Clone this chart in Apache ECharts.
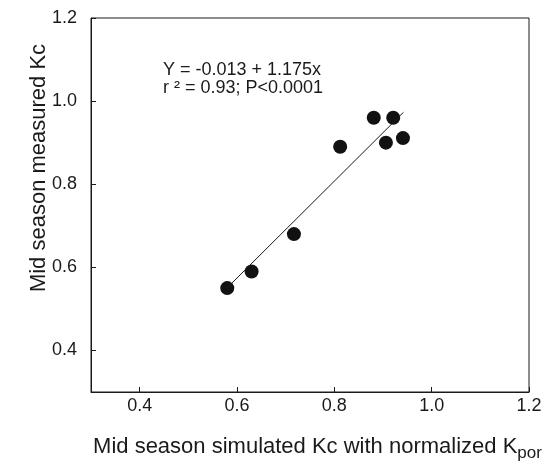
<!DOCTYPE html>
<html>
<head>
<meta charset="utf-8">
<script src="https://cdn.jsdelivr.net/npm/echarts@6/dist/echarts.min.js"></script>
<style>html,body{margin:0;padding:0;background:#fff}#c{width:552px;height:467px}</style>
</head>
<body>
<div id="c"></div>
<script>
// Data
const simulatedKc = [0.58, 0.63, 0.717, 0.812, 0.881, 0.906, 0.921, 0.941];
const measuredKc  = [0.55, 0.59, 0.68, 0.89, 0.96, 0.90, 0.96, 0.911];
const fitLineX = [0.58, 0.942];
const fitLineY = [0.551, 0.973];
const xTicks = [0.4, 0.6, 0.8, 1.0, 1.2];
const yTicks = [0.4, 0.6, 0.8, 1.0, 1.2];
const equationText = ['Y = -0.013 + 1.175x', 'r ² = 0.93; P<0.0001'];
const yTitle = 'Mid season measured Kc';
const xTitleMain = 'Mid season simulated Kc with normalized K';
const xTitleSub = 'por';

const FONT = '"Liberation Sans", Arial, sans-serif';
const INK = '#1a1a1a';

const chart = echarts.init(document.getElementById('c'), null, {renderer: 'canvas'});
chart.setOption({
  animation: false,
  backgroundColor: '#fff',
  grid: {left: 91, top: 18, right: 23, bottom: 67, show: true, borderColor: INK, borderWidth: 1, containLabel: false},
  xAxis: {
    type: 'value', min: 0.3, max: 1.2,
    name: '{a|' + xTitleMain + '}{b|' + xTitleSub + '}',
    nameLocation: 'middle', nameGap: 40,
    nameTextStyle: {
      padding: [0, 0, 0, 15],
      rich: {
        a: {fontFamily: FONT, fontSize: 22, color: INK, lineHeight: 30},
        b: {fontFamily: FONT, fontSize: 17, color: INK, lineHeight: 17, verticalAlign: 'bottom'}
      }
    },
    axisLine: {show: true, lineStyle: {color: INK, width: 1}},
    axisTick: {show: true, inside: true, length: 5, customValues: xTicks, lineStyle: {color: INK}},
    axisLabel: {customValues: xTicks, margin: 5, fontFamily: FONT, fontSize: 18, color: INK,
      formatter: v => Number(v).toFixed(1), showMaxLabel: true, showMinLabel: true},
    splitLine: {show: false}
  },
  yAxis: {
    type: 'value', min: 0.3, max: 1.2,
    axisLine: {show: true, lineStyle: {color: INK, width: 1}},
    axisTick: {show: true, inside: true, length: 5, customValues: yTicks, lineStyle: {color: INK}},
    axisLabel: {customValues: yTicks, margin: 14, fontFamily: FONT, fontSize: 18, color: INK,
      formatter: v => Number(v).toFixed(1), showMaxLabel: true, showMinLabel: true},
    splitLine: {show: false}
  },
  graphic: [
    {type: 'text', x: 39, y: 168, rotation: Math.PI / 2,
      style: {text: yTitle, font: '22px ' + FONT, fill: INK, align: 'center', verticalAlign: 'middle'}},
    {type: 'text', left: 163, top: 61, style: {text: equationText[0], font: '18px ' + FONT, fill: INK}},
    {type: 'text', left: 163, top: 79, style: {text: equationText[1], font: '18px ' + FONT, fill: INK}}
  ],
  series: [
    {
      type: 'line',
      data: fitLineX.map((x, i) => [x, fitLineY[i]]),
      showSymbol: false, symbol: 'none',
      lineStyle: {color: INK, width: 1},
      z: 3
    },
    {
      type: 'scatter',
      data: simulatedKc.map((x, i) => [x, measuredKc[i]]),
      symbol: 'circle', symbolSize: 14,
      itemStyle: {color: '#111', opacity: 1},
      z: 2
    }
  ]
});
</script>
</body>
</html>
